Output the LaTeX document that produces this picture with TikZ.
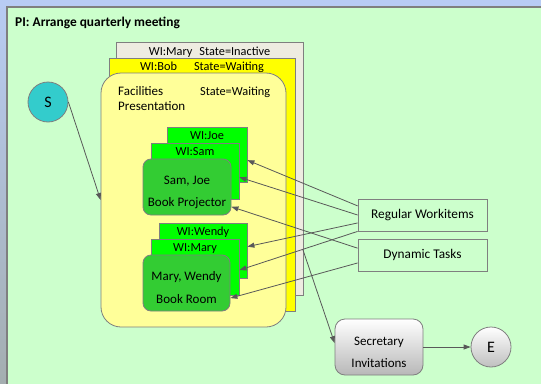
\documentclass[tikz,border=0pt]{standalone}
\usepackage{fontspec}
\setmainfont{Carlito}
\usetikzlibrary{arrows.meta}

\definecolor{panelgreen}{HTML}{CCFFCC}
\definecolor{bgblue}{HTML}{B8CCF4}
\definecolor{bggray}{HTML}{A4AEB0}
\definecolor{linegray}{HTML}{595959}
\definecolor{edgegray}{HTML}{7F7F7F}
\definecolor{inactivegray}{HTML}{EEECE1}
\definecolor{waityellow}{HTML}{FFFF00}
\definecolor{facyellow}{HTML}{FFFF99}
\definecolor{wigreen}{HTML}{00FF00}
\definecolor{taskgreen}{HTML}{33CC33}
\definecolor{startteal}{HTML}{33CCCC}

\tikzset{
  every node/.style={font=\fontsize{12.3}{14}\selectfont},
  bigbox/.style={draw=edgegray, line width=0.8pt, inner sep=0pt},
  wibox/.style={draw=edgegray, line width=0.8pt, fill=wigreen, inner sep=0pt, text height=12pt},
  taskbox/.style={draw=edgegray, line width=0.8pt, fill=taskgreen, rounded corners=8pt,
    inner sep=0pt, align=center, font=\fontsize{13}{15}\selectfont},
  legendbox/.style={draw=edgegray, line width=0.8pt, inner sep=0pt, minimum width=129pt,
    minimum height=32pt, font=\fontsize{13.3}{15}\selectfont},
  evt/.style={circle, draw=edgegray, line width=0.8pt, minimum size=40pt, inner sep=0pt,
    font=\fontsize{16}{18}\selectfont},
  conn/.style={draw=linegray, line width=0.8pt, -{Triangle[length=7pt,width=5pt]}},
}

\begin{document}
\begin{tikzpicture}[x=1pt,y=-1pt]
\useasboundingbox (0,0) rectangle (541,383);
% background and process panel
\fill[top color=bgblue, bottom color=bggray] (0,0) rectangle (541,383);
\fill[bgblue] (0,0) rectangle (541,7);
\filldraw[fill=panelgreen, draw=edgegray, line width=1.5pt] (7,7) rectangle (545,390);
\node[anchor=west, inner sep=0pt, font=\fontsize{13.4}{15}\selectfont\bfseries] (title) at (15,23) {PI: Arrange quarterly meeting};

% stacked work items of the facilities task
\node[bigbox, fill=inactivegray, minimum width=187pt, text height=13pt, text depth=240pt] (marywi) at (209.5,168.5) {WI:Mary\hspace{7pt}State=Inactive};
\node[bigbox, fill=waityellow, minimum width=186pt, text height=12pt, text depth=241pt] (bobwi) at (202,184.5) {WI:Bob\hspace{17pt}State=Waiting\hspace{11pt}};
\node[bigbox, fill=facyellow, rounded corners=20pt, minimum width=185pt, minimum height=254pt] (fac) at (193.5,200) {};
\node[anchor=north west, inner sep=0pt, align=left, font=\fontsize{13}{15.4}\selectfont] (facname) at (118,86) {Facilities\\Presentation};
\node[anchor=west, inner sep=0pt] (facstate) at (200,92) {State=Waiting};

% projector sub task
\node[wibox, minimum width=80pt, text depth=43pt] (joe) at (207,154.5) {WI:Joe};
\node[wibox, minimum width=88pt, text depth=44pt] (sam) at (195,171) {WI:Sam};
\node[taskbox, minimum width=88pt, minimum height=56pt] (projector) at (187,187) {\rule{0pt}{19pt}Sam, Joe\\[7pt]Book Projector};

% room sub task
\node[wibox, minimum width=88pt, text depth=43pt] (wendy) at (203,250.5) {WI:Wendy};
\node[wibox, minimum width=88pt, text depth=44pt] (marysub) at (195,267) {WI:Mary};
\node[taskbox, minimum width=87pt, minimum height=56pt] (room) at (186.5,283) {\rule{0pt}{19pt}Mary, Wendy\\[8pt]Book Room};

% legend
\node[legendbox] (regular) at (422.5,215) {Regular Workitems};
\node[legendbox] (dynamic) at (422.5,255) {Dynamic Tasks};

% start, secretary, end
\node[evt, fill=startteal] (start) at (48,102) {S};
\node[draw=edgegray, line width=0.8pt, top color=white, bottom color=black!28, rounded corners=10pt,
  minimum width=88pt, minimum height=56pt, inner sep=0pt, align=center,
  font=\fontsize{13}{15}\selectfont] (secretary) at (379,347) {\rule{0pt}{19pt}Secretary\\[7pt]Invitations};
\node[evt, top color=white, bottom color=black!25] (finish) at (491,347) {E};
\coordinate (facout) at (303,250);

\draw[conn] (start.east) -- (fac.west);
\draw[conn] (regular.172) -- (joe.-8);
\draw[conn] (regular.west) -- (sam.-8);
\draw[conn] (regular.187) -- (wendy.5);
\draw[conn] (regular.south west) -- (marysub.-4);
\draw[conn] (dynamic.174) -- (projector.-24);
\draw[conn] (dynamic.187) -- (room.-19);
\draw[conn] (facout) -- (secretary.175);
\draw[conn] (secretary.east) -- (finish.west);
\end{tikzpicture}
\end{document}
